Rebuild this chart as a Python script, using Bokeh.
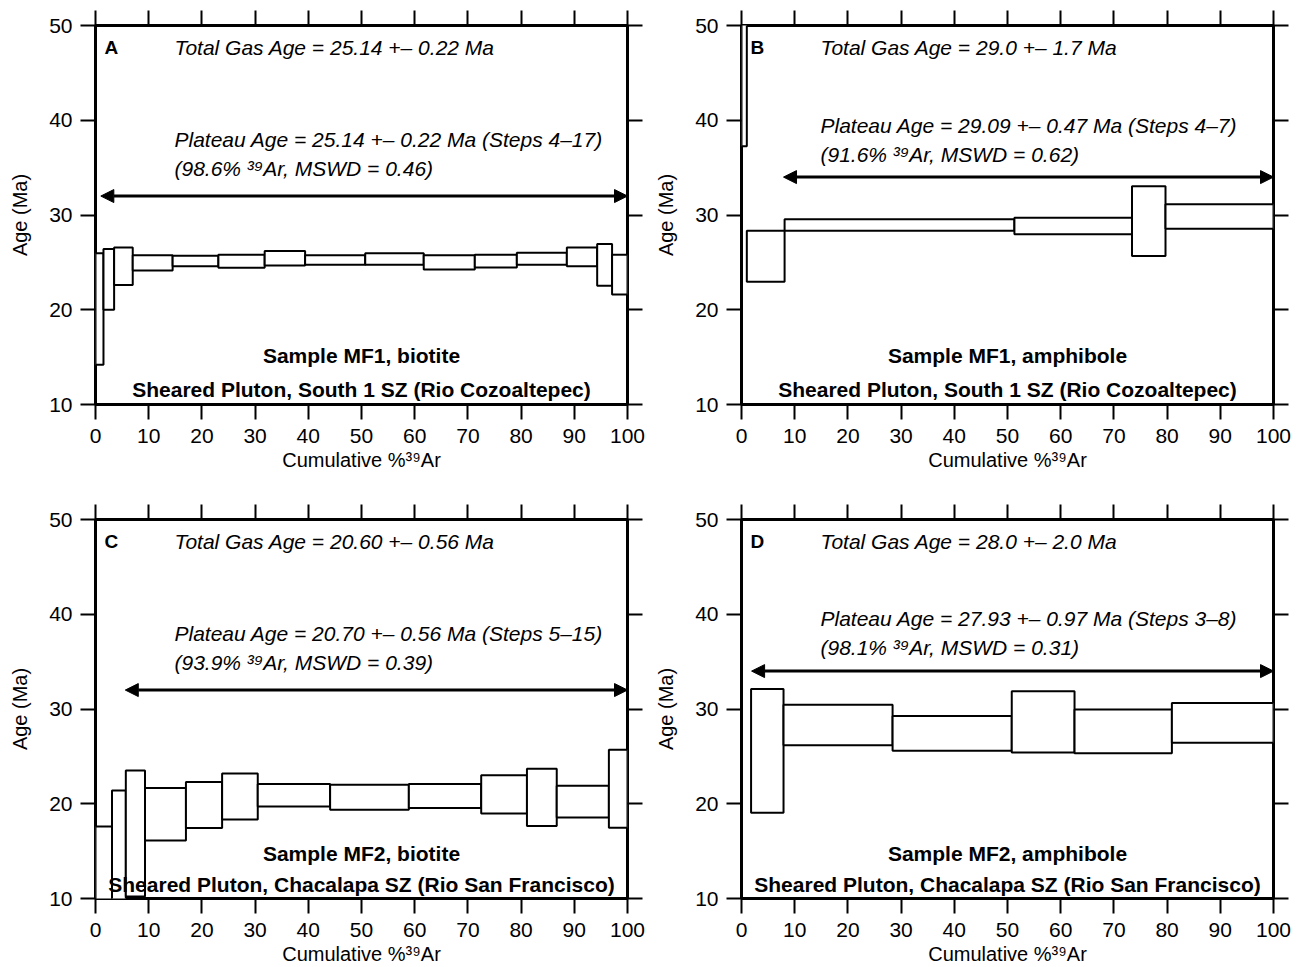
from bokeh.plotting import figure
from bokeh.models import (Range1d, LinearAxis, SingleIntervalTicker, Arrow, NormalHead,
                          CustomLabelingPolicy)
from bokeh.layouts import column, row
from bokeh.core.properties import value
from bokeh.embed import file_html
from bokeh.resources import INLINE

# ---------------- data ----------------
# Panel A: MF1 biotite
A_edges = [0, 1.5, 3.5, 7.0, 14.5, 23.1, 31.8, 39.4, 50.7, 61.7, 71.3, 79.2, 88.6, 94.3, 97.1, 100]
A_top = [25.95, 26.4, 26.58, 25.75, 25.7, 25.8, 26.2, 25.75, 25.96, 25.75, 25.8, 26.02, 26.58, 26.94, 25.8]
A_bot = [14.19, 20.0, 22.6, 24.15, 24.58, 24.44, 24.68, 24.75, 24.75, 24.26, 24.47, 24.75, 24.58, 22.54, 21.6]
A_plateau = [1.0, 100, 32.0]

# Panel B: MF1 amphibole
B_edges = [0, 1.0, 8.1, 51.3, 73.4, 79.7, 100]
B_top = [55.0, 28.35, 29.54, 29.72, 33.03, 31.13]
B_bot = [37.26, 22.96, 28.35, 27.96, 25.67, 28.56]
B_plateau = [7.9, 100, 34.0]

# Panel C: MF2 biotite
C_edges = [0, 3.1, 5.7, 9.3, 17.0, 23.8, 30.5, 44.1, 58.9, 72.5, 81.1, 86.7, 96.5, 100]
C_top = [17.6, 21.4, 23.52, 21.65, 22.29, 23.2, 22.08, 22.0, 22.08, 23.0, 23.7, 21.9, 25.7]
C_bot = [5.0, 5.0, 10.2, 16.13, 17.43, 18.35, 19.72, 19.37, 19.54, 18.98, 17.64, 18.56, 17.46]
C_plateau = [5.6, 100, 32.0]

# Panel D: MF2 amphibole
D_edges = [1.8, 7.9, 28.4, 50.8, 62.6, 80.9, 100]
D_top = [32.12, 30.46, 29.26, 31.87, 29.96, 30.64]
D_bot = [19.05, 26.18, 25.6, 25.4, 25.34, 26.43]
D_plateau = [1.9, 100, 34.0]

letters = ["A", "B", "C", "D"]
total_gas = [
    "Total Gas Age = 25.14 +\u2013 0.22 Ma",
    "Total Gas Age = 29.0 +\u2013 1.7 Ma",
    "Total Gas Age = 20.60 +\u2013 0.56 Ma",
    "Total Gas Age = 28.0 +\u2013 2.0 Ma",
]
plateau_1 = [
    "Plateau Age = 25.14 +\u2013 0.22 Ma (Steps 4\u201317)",
    "Plateau Age = 29.09 +\u2013 0.47 Ma (Steps 4\u20137)",
    "Plateau Age = 20.70 +\u2013 0.56 Ma (Steps 5\u201315)",
    "Plateau Age = 27.93 +\u2013 0.97 Ma (Steps 3\u20138)",
]
plateau_2 = [
    "(98.6% \u00b3\u2079Ar, MSWD = 0.46)",
    "(91.6% \u00b3\u2079Ar, MSWD = 0.62)",
    "(93.9% \u00b3\u2079Ar, MSWD = 0.39)",
    "(98.1% \u00b3\u2079Ar, MSWD = 0.31)",
]
sample_1 = ["Sample MF1, biotite", "Sample MF1, amphibole", "Sample MF2, biotite", "Sample MF2, amphibole"]
sample_2 = [
    "Sheared Pluton, South 1 SZ (Rio Cozoaltepec)",
    "Sheared Pluton, South 1 SZ (Rio Cozoaltepec)",
    "Sheared Pluton, Chacalapa SZ (Rio San Francisco)",
    "Sheared Pluton, Chacalapa SZ (Rio San Francisco)",
]
plateau_text_y = [(37.97, 34.9), (39.45, 36.4), (38.0, 34.9), (39.55, 36.5)]
sample_text_y = [(15.17, 11.58), (15.17, 11.58), (14.75, 11.48), (14.75, 11.48)]

FONT = "Liberation Sans"

HIDE_ALL = """
for (const i of indices) {
    indices.unset(i)
}
return indices
"""


def make_panel(i, edges, tops, bots, plateau, bl, br, bt, bb):
    p = figure(x_range=Range1d(0, 100), y_range=Range1d(10, 50),
               frame_width=532, frame_height=379,
               min_border_left=bl, min_border_right=br,
               min_border_top=bt, min_border_bottom=bb,
               output_backend="svg", toolbar_location=None,
               background_fill_color="white", border_fill_color="white")
    p.grid.visible = False
    p.outline_line_color = "black"
    p.outline_line_width = 3

    for ax in (p.xaxis[0], p.yaxis[0]):
        ax.ticker = SingleIntervalTicker(interval=10)
        ax.axis_line_color = None
        ax.minor_tick_line_color = None
        ax.major_tick_in = 0
        ax.major_tick_out = 15
        ax.major_tick_line_width = 2
        ax.major_label_text_font = FONT
        ax.major_label_text_font_size = "21px"
        ax.major_label_text_color = "black"
        ax.axis_label_text_font = FONT
        ax.axis_label_text_font_size = "20px"
        ax.axis_label_text_font_style = "normal"
        ax.axis_label_text_color = "black"
    p.xaxis[0].axis_label = "Cumulative %\u00b3\u2079Ar"
    p.xaxis[0].major_label_standoff = 9
    p.xaxis[0].axis_label_standoff = 3
    p.yaxis[0].axis_label = "Age (Ma)"
    p.yaxis[0].major_label_standoff = 8
    p.yaxis[0].axis_label_standoff = 15

    for loc in ("above", "right"):
        ax = LinearAxis(ticker=SingleIntervalTicker(interval=10),
                        axis_line_color=None, minor_tick_line_color=None,
                        major_tick_in=0, major_tick_out=15, major_tick_line_width=2,
                        major_label_text_font_size="0px", major_label_standoff=0,
                        major_label_policy=CustomLabelingPolicy(code=HIDE_ALL))
        p.add_layout(ax, loc)

    p.quad(left=edges[:-1], right=edges[1:], top=tops, bottom=bots,
           fill_color="white", line_color="black", line_width=2)

    x0, x1, yv = plateau
    p.add_layout(Arrow(x_start=x0, y_start=yv, x_end=x1, y_end=yv, line_width=3,
                       line_color="black",
                       start=NormalHead(size=13, fill_color="black", line_color="black"),
                       end=NormalHead(size=13, fill_color="black", line_color="black")))

    p.text(x=[1.7], y=[47.7], text=[letters[i]], text_font=value(FONT),
           text_font_style="bold", text_font_size="19px",
           text_baseline="middle", text_align="left", text_color="black")
    p.text(x=[14.85, 14.85, 14.85],
           y=[47.7, plateau_text_y[i][0], plateau_text_y[i][1]],
           text=[total_gas[i], plateau_1[i], plateau_2[i]],
           text_font=value(FONT), text_font_style="italic", text_font_size="21px",
           text_baseline="middle", text_align="left", text_color="black")
    p.text(x=[50, 50], y=[sample_text_y[i][0], sample_text_y[i][1]],
           text=[sample_1[i], sample_2[i]],
           text_font=value(FONT), text_font_style="bold", text_font_size="21px",
           text_baseline="middle", text_align="center", text_color="black")
    return p


pa = make_panel(0, A_edges, A_top, A_bot, A_plateau, 95, 19, 25, 90)
pb = make_panel(1, B_edges, B_top, B_bot, B_plateau, 95, 28, 25, 90)
pc = make_panel(2, C_edges, C_top, C_bot, C_plateau, 95, 19, 25, 69)
pd = make_panel(3, D_edges, D_top, D_bot, D_plateau, 95, 28, 25, 69)

layout = column(row(pa, pb), row(pc, pd))
open("out.html", "w").write(file_html(layout, INLINE))
